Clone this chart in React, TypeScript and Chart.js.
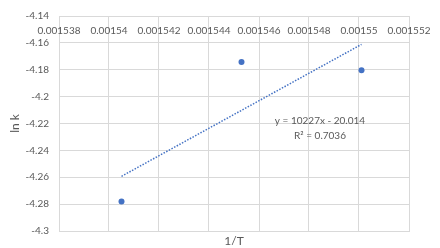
import React, { useEffect, useRef } from "react";
import { Chart, registerables } from "chart.js";

Chart.register(...registerables);

const xValues = [0.0015405, 0.0015453, 0.0015501];
const yValues = [-4.278, -4.1743, -4.1803];
const slope = 10227;
const intercept = -20.014;
const xTicks = [0.001538, 0.00154, 0.001542, 0.001544, 0.001546, 0.001548, 0.00155, 0.001552];
const yTicks = [-4.14, -4.16, -4.18, -4.2, -4.22, -4.24, -4.26, -4.28, -4.3];
const equationText = "y = 10227x - 20.014";
const r2Text = "R² = 0.7036";
const xTitle = "1/T";
const yTitle = "ln k";

const FONT = "Lato, 'Open Sans', sans-serif";
const TEXT = "#595959";
const GRID = "#d9d9d9";
const BLUE = "#4472C4";

const topLabels = {
  id: "topLabels",
  afterDraw(chart: any) {
    const { ctx, chartArea } = chart;
    const xs = chart.scales.x;
    ctx.save();
    ctx.fillStyle = TEXT;
    ctx.font = `10px ${FONT}`;
    ctx.textAlign = "center";
    ctx.textBaseline = "middle";
    xTicks.forEach((v) => {
      ctx.fillText(String(v), xs.getPixelForValue(v), chartArea.top + 15);
    });
    ctx.fillText(equationText, chartArea.left + 261, chartArea.top + 105);
    ctx.fillText(r2Text, chartArea.left + 261, chartArea.top + 119.5);
    ctx.restore();
  },
};

export default function App() {
  const ref = useRef<HTMLCanvasElement | null>(null);
  useEffect(() => {
    if (!ref.current) return;
    const trendX = [xValues[0], xValues[xValues.length - 1]];
    const chart = new Chart(ref.current, {
      type: "scatter",
      data: {
        datasets: [
          {
            label: "trend",
            data: trendX.map((x) => ({ x, y: slope * x + intercept })),
            showLine: true,
            borderColor: BLUE,
            borderWidth: 1.5,
            borderDash: [1.5, 1.5],
            pointRadius: 0,
            fill: false,
          },
          {
            label: "data",
            data: xValues.map((x, i) => ({ x, y: yValues[i] })),
            backgroundColor: BLUE,
            borderColor: BLUE,
            pointRadius: 3,
            borderWidth: 0,
          },
        ],
      },
      options: {
        responsive: false,
        animation: false,
        layout: { padding: { top: 13, right: 31, left: 0, bottom: 0 } },
        plugins: { legend: { display: false }, tooltip: { enabled: false } },
        scales: {
          x: {
            type: "linear",
            min: 0.001538,
            max: 0.001552,
            afterBuildTicks: (s: any) => {
              s.ticks = xTicks.map((v) => ({ value: v }));
            },
            afterFit: (s: any) => {
              s.height = 17;
            },
            ticks: { display: false },
            grid: { color: GRID, drawTicks: false },
            border: { color: GRID },
            title: {
              display: true,
              text: xTitle,
              color: TEXT,
              font: { family: FONT, size: 12 },
              padding: { top: 0, bottom: 0 },
            },
          },
          y: {
            type: "linear",
            min: -4.3,
            max: -4.14,
            afterBuildTicks: (s: any) => {
              s.ticks = yTicks.map((v) => ({ value: v }));
            },
            afterFit: (s: any) => {
              s.width = 59;
            },
            ticks: {
              color: TEXT,
              font: { family: FONT, size: 10 },
              padding: 10,
              callback: (v: any) => String(Number(Number(v).toFixed(2))),
            },
            grid: { color: GRID, drawTicks: false },
            border: { color: GRID },
            title: {
              display: true,
              text: yTitle,
              color: TEXT,
              font: { family: FONT, size: 12 },
              padding: { top: 8, bottom: 0 },
            },
          },
        },
      },
      plugins: [topLabels],
    } as any);
    return () => chart.destroy();
  }, []);
  return (
    <div style={{ position: "absolute", left: 0, top: 0, width: 440, height: 248, background: "#fff" }}>
      <canvas ref={ref} width={440} height={248} style={{ display: "block" }} />
    </div>
  );
}
